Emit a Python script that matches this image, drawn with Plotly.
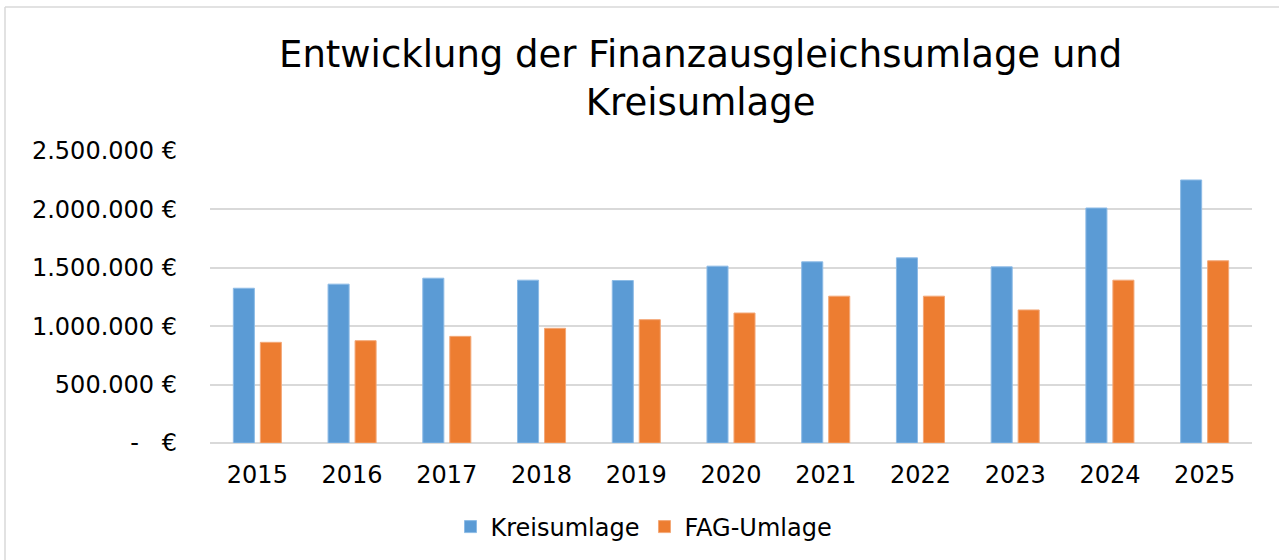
import plotly.graph_objects as go

years = ["2015", "2016", "2017", "2018", "2019", "2020", "2021", "2022", "2023", "2024", "2025"]
kreisumlage = [1325000, 1360000, 1411000, 1394000, 1391000, 1514000, 1551000, 1585000, 1508000, 2012000, 2252000]
fag_umlage = [862000, 876000, 913000, 982000, 1056000, 1113000, 1257000, 1257000, 1139000, 1394000, 1560000]
tick_vals = [0, 500000, 1000000, 1500000, 2000000, 2500000]
tick_text = ["-   €", "500.000 €", "1.000.000 €", "1.500.000 €", "2.000.000 €", "2.500.000 €"]
title_text = "Entwicklung der Finanzausgleichsumlage und<br>Kreisumlage"

W, H = 1279, 560
L, R, T, B = 210, 27, 151, 117
pw, ph = W - L - R, H - T - B

font = "DejaVu Sans"

fig = go.Figure()
fig.add_trace(go.Bar(x=years, y=kreisumlage, name="Kreisumlage",
                     marker=dict(color="#5B9BD5", line=dict(color="#8DBBE6", width=1))))
fig.add_trace(go.Bar(x=years, y=fag_umlage, name="FAG-Umlage",
                     marker=dict(color="#ED7D31", line=dict(color="#F3A878", width=1))))

fig.update_layout(
    width=W, height=H,
    margin=dict(l=L, r=R, t=T, b=B, autoexpand=False),
    paper_bgcolor="white", plot_bgcolor="white",
    barmode="group", bargap=0.43, bargroupgap=0.22,
    font=dict(family=font, color="#000000"),
    xaxis=dict(showgrid=False, showline=False, ticks="", tickfont=dict(size=24, color="#000000"),
               ticklabelstandoff=15, automargin=False),
    yaxis=dict(range=[0, 2500000], tickvals=tick_vals, ticktext=tick_text,
               showgrid=True, gridcolor="#D9D9D9", gridwidth=1.5,
               zeroline=True, zerolinecolor="#D9D9D9", zerolinewidth=1.5,
               showline=False, ticks="", tickfont=dict(size=24, color="#000000"),
               ticklabelstandoff=32, automargin=False),
    legend=dict(orientation="h", x=(644 - L) / pw, xanchor="center",
                y=-(527 - 443) / ph, yanchor="middle",
                font=dict(size=24, color="#000000"),
                traceorder="normal"),
    showlegend=True,
)

fig.add_annotation(text=title_text, xref="paper", yref="paper",
                   x=(700 - L) / pw, xanchor="center",
                   y=1 + (T - 78) / ph, yanchor="middle",
                   showarrow=False, align="center",
                   font=dict(family=font, size=37, color="#000000"))

# chart frame (left and top edges)
fig.add_shape(type="line", xref="paper", yref="paper",
              x0=(5 - L) / pw, x1=(W + 10 - L) / pw,
              y0=1 + (T - 7) / ph, y1=1 + (T - 7) / ph,
              line=dict(color="#D9D9D9", width=1.5))
fig.add_shape(type="line", xref="paper", yref="paper",
              x0=(5 - L) / pw, x1=(5 - L) / pw,
              y0=1 + (T - 7) / ph, y1=-(H + 10 - T - ph) / ph,
              line=dict(color="#D9D9D9", width=1.5))

fig.write_html("out.html", config={"displayModeBar": False},
               post_script="document.body.style.margin='0';")
